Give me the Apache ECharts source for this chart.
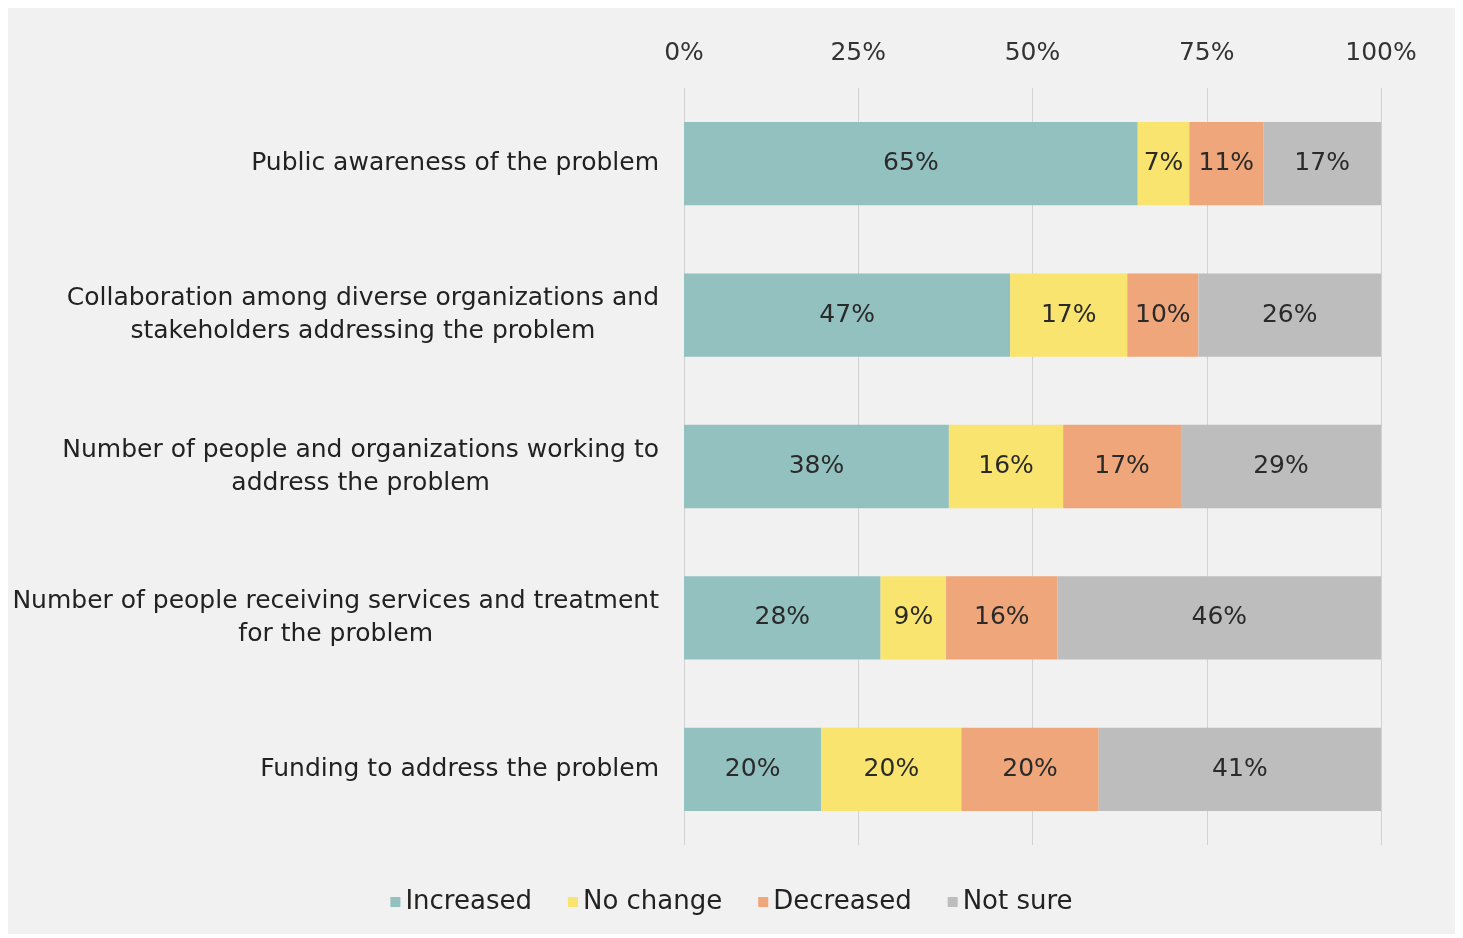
<!DOCTYPE html>
<html>
<head>
<meta charset="utf-8">
<script src="https://cdn.jsdelivr.net/npm/echarts@6/dist/echarts.min.js"></script>
<style>
html,body{margin:0;padding:0;background:#ffffff;}
#bg{position:absolute;left:8px;top:8px;width:1447px;height:926px;background:#f1f1f1;}
#chart{position:absolute;left:0;top:0;width:1463px;height:938px;}
</style>
</head>
<body>
<div id="bg"></div>
<div id="chart"></div>
<script>
const categories = [
  "Public awareness of the problem",
  "Collaboration among diverse organizations and\nstakeholders addressing the problem",
  "Number of people and organizations working to\naddress the problem",
  "Number of people receiving services and treatment\nfor the problem",
  "Funding to address the problem"
];
const seriesNames = ["Increased", "No change", "Decreased", "Not sure"];
const increased = [65.1, 46.8, 38.0, 28.2, 19.7];
const noChange  = [7.4, 16.8, 16.4, 9.4, 20.1];
const decreased = [10.6, 10.2, 16.9, 16.0, 19.7];
const notSure   = [16.9, 26.2, 28.7, 46.4, 40.5];
const tickValues = [0, 25, 50, 75, 100];
const colors = ["#93c1c0", "#f8e46e", "#eea67a", "#bdbdbd"];

const FONT = "DejaVu Sans";
const FS = 25;

const chart = echarts.init(document.getElementById('chart'), null, {renderer: 'canvas'});
const data = [increased, noChange, decreased, notSure];

const option = {
  backgroundColor: 'transparent',
  animation: false,
  textStyle: {fontFamily: FONT},
  grid: {left: 684, right: 82, top: 88, bottom: 93, containLabel: false},
  legend: {
    bottom: 18,
    left: 'center',
    itemWidth: 10,
    itemHeight: 10,
    itemGap: 36,
    icon: 'rect',
    textStyle: {fontFamily: FONT, fontSize: 26, color: '#222'},
    data: seriesNames
  },
  xAxis: {
    type: 'value',
    position: 'top',
    min: 0, max: 100, interval: 25,
    axisLine: {show: false},
    axisTick: {show: false},
    splitLine: {show: true, lineStyle: {color: '#d2d2d2', width: 1}},
    axisLabel: {
      margin: 22,
      fontFamily: FONT, fontSize: FS, color: '#333',
      formatter: v => tickValues.includes(v) ? v + '%' : ''
    }
  },
  yAxis: {
    type: 'category',
    inverse: true,
    data: categories,
    axisLine: {show: false},
    axisTick: {show: false},
    axisLabel: {
      margin: 25,
      align: 'right',
      formatter: v => v.split('\n').map(s => '{c|' + s + '}').join('\n'),
      rich: {c: {align: 'center', fontFamily: FONT, fontSize: FS, color: '#222', lineHeight: 33}}
    }
  },
  series: seriesNames.map((name, i) => ({
    name: name,
    type: 'bar',
    stack: 'total',
    barWidth: '55%',
    itemStyle: {color: colors[i]},
    label: {
      show: true,
      position: 'inside',
      fontFamily: FONT, fontSize: FS, color: '#2a2a2a',
      formatter: p => Math.round(p.value) + '%'
    },
    data: data[i]
  }))
};
chart.setOption(option);
</script>
</body>
</html>
